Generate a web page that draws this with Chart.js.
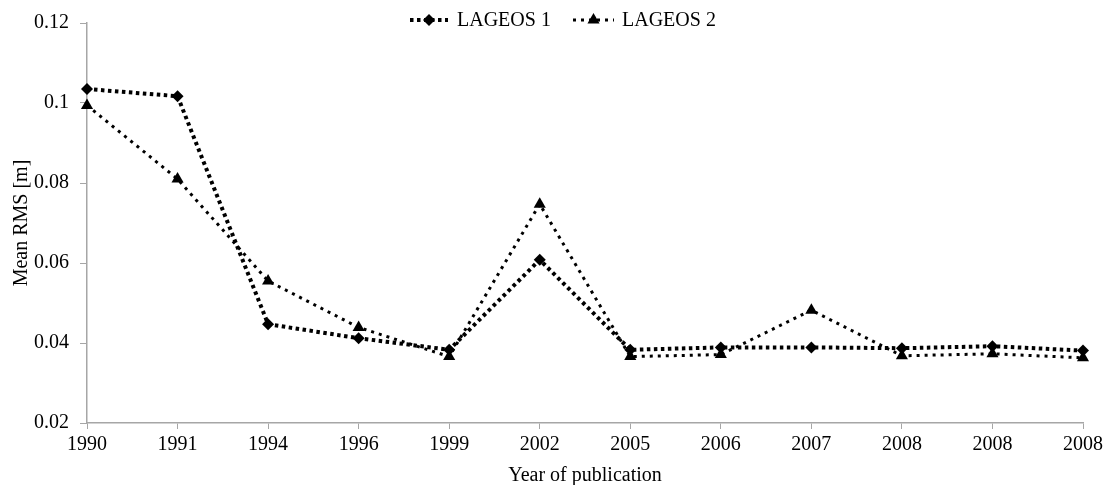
<!DOCTYPE html>
<html>
<head>
<meta charset="utf-8">
<script src="https://cdn.jsdelivr.net/npm/chart.js@4"></script>
<style>
    html, body { margin: 0; padding: 0; background: #fff; }
    #wrap { width: 1106px; height: 485px; }
</style>
</head>
<body>
<div id="wrap"><canvas id="chart"></canvas></div>
<script>
const years = ['1990', '1991', '1994', '1996', '1999', '2002', '2005', '2006', '2007', '2008', '2008', '2008'];
const lageos1 = [0.1035, 0.1017, 0.0447, 0.0412, 0.0383, 0.0608, 0.0383, 0.0389, 0.0389, 0.0387, 0.0392, 0.0381];
const lageos2 = [0.0994, 0.0810, 0.0555, 0.0439, 0.0366, 0.0747, 0.0366, 0.0371, 0.0482, 0.0368, 0.0373, 0.0363];
const yTicks = [0.02, 0.04, 0.06, 0.08, 0.1, 0.12];

const FONT = 'Liberation Serif, Times New Roman, serif';
const axisGrey = '#a6a6a6';

// legend drawn on top of the plot, like the original (dotted line + marker + label)
const topLegend = {
    id: 'topLegend',
    afterDraw(chart) {
        const ctx = chart.ctx;
        const items = [
            { x: 410, w: 38, text: 457 },
            { x: 573, w: 41, text: 622 }
        ];
        const y = 20;
        ctx.save();
        chart.data.datasets.forEach((ds, i) => {
            const it = items[i];
            ctx.strokeStyle = '#000';
            ctx.lineWidth = ds.borderWidth;
            ctx.setLineDash(ds.borderDash);
            ctx.beginPath();
            ctx.moveTo(it.x, y);
            ctx.lineTo(it.x + it.w, y);
            ctx.stroke();
            ctx.setLineDash([]);
            Chart.helpers.drawPoint(ctx, {
                pointStyle: ds.pointStyle,
                radius: ds.pointRadius,
                rotation: 0,
                borderWidth: 0
            }, it.x + it.w / 2, y);
            ctx.fillStyle = '#000';
            ctx.font = '20px ' + FONT;
            ctx.textBaseline = 'middle';
            ctx.textAlign = 'left';
            ctx.fillText(ds.label, it.text, y + 1);
        });
        ctx.restore();
    }
};

new Chart(document.getElementById('chart'), {
    type: 'line',
    data: {
        labels: years,
        datasets: [{
            label: 'LAGEOS 1',
            data: lageos1,
            borderColor: '#000',
            backgroundColor: '#000',
            borderWidth: 4,
            borderDash: [3.5, 3.5],
            borderCapStyle: 'butt',
            pointStyle: 'rectRot',
            pointRadius: 6,
            pointBorderWidth: 0,
            tension: 0
        }, {
            label: 'LAGEOS 2',
            data: lageos2,
            borderColor: '#000',
            backgroundColor: '#000',
            borderWidth: 3,
            borderDash: [3, 5],
            borderCapStyle: 'butt',
            pointStyle: 'triangle',
            pointRadius: 7,
            pointBorderWidth: 0,
            tension: 0
        }]
    },
    options: {
        responsive: true,
        maintainAspectRatio: false,
        animation: false,
        layout: { padding: { top: 18, left: 10, right: 0, bottom: 0 } },
        plugins: {
            legend: { display: false },
            tooltip: { enabled: false }
        },
        scales: {
            x: {
                offset: false,
                afterFit(scale) {
                    scale.height = 62;
                    scale.paddingRight = 23;
                },
                grid: { drawOnChartArea: false, drawTicks: true, tickLength: 6, color: axisGrey },
                border: { color: axisGrey, width: 1.5 },
                ticks: { color: '#000', font: { family: FONT, size: 20 }, padding: 4, maxRotation: 0, autoSkip: false },
                title: { display: true, text: 'Year of publication', color: '#000', font: { family: FONT, size: 20 }, padding: { top: 2, bottom: -3 } }
            },
            y: {
                min: 0.02,
                max: 0.12,
                afterBuildTicks(scale) {
                    scale.ticks = yTicks.map(v => ({ value: v }));
                },
                afterFit(scale) { scale.width = 77; },
                grid: { drawOnChartArea: false, drawTicks: true, tickLength: 7, color: axisGrey },
                border: { color: axisGrey, width: 1.5 },
                ticks: {
                    color: '#000',
                    font: { family: FONT, size: 20 },
                    padding: 11,
                    callback: v => String(+v.toFixed(2))
                },
                title: { display: true, text: 'Mean RMS [m]', color: '#000', font: { family: FONT, size: 20 }, padding: { top: 0, bottom: 0 } }
            }
        }
    },
    plugins: [topLegend]
});
</script>
</body>
</html>
